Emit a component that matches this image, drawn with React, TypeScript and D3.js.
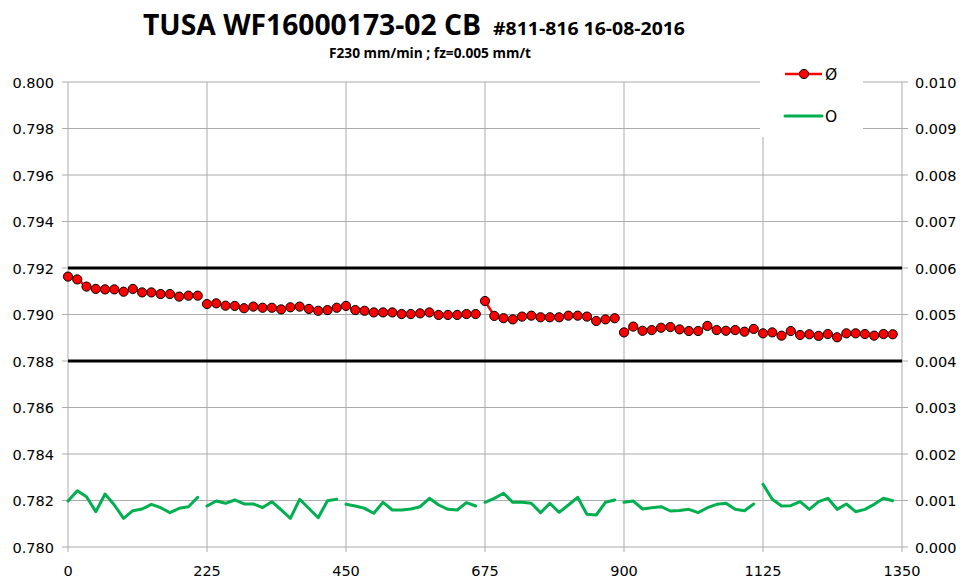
import React from "react";
import * as d3 from "d3";

const groupStarts = [0, 225, 450, 675, 900, 1125];
const stepX = 15;

const diameterRuns = [
  [0.79163, 0.79151, 0.7912, 0.7911, 0.79108, 0.79108, 0.79098, 0.7911, 0.79095, 0.79095, 0.79088, 0.79088, 0.79077, 0.79081, 0.79081],
  [0.79045, 0.79048, 0.79038, 0.79037, 0.79027, 0.79034, 0.79029, 0.79029, 0.79022, 0.79031, 0.79034, 0.79024, 0.79016, 0.79019, 0.79029],
  [0.79037, 0.79019, 0.79016, 0.79009, 0.79009, 0.79009, 0.79002, 0.79002, 0.79005, 0.79009, 0.78998, 0.78998, 0.78998, 0.79002, 0.79002],
  [0.79058, 0.78994, 0.78984, 0.78979, 0.78991, 0.78995, 0.78988, 0.78988, 0.78988, 0.78995, 0.78995, 0.78991, 0.78972, 0.78979, 0.78984],
  [0.78923, 0.78948, 0.7893, 0.78933, 0.78943, 0.78946, 0.78936, 0.78929, 0.78929, 0.78951, 0.78933, 0.7893, 0.78933, 0.78926, 0.78938],
  [0.78919, 0.78923, 0.78909, 0.78929, 0.78912, 0.78915, 0.78908, 0.78916, 0.78902, 0.78919, 0.78919, 0.78916, 0.78909, 0.78916, 0.78915],
];

const roundnessRuns = [
  [0.000989, 0.001211, 0.001082, 0.000759, 0.00114, 0.000903, 0.000617, 0.000781, 0.000817, 0.000918, 0.000845, 0.000738, 0.000832, 0.000867, 0.001069],
  [0.000882, 0.000989, 0.00094, 0.001011, 0.000925, 0.000925, 0.000849, 0.000974, 0.000796, 0.000617, 0.001026, 0.000828, 0.00063, 0.000996, 0.001026],
  [0.000918, 0.000882, 0.000832, 0.000725, 0.000961, 0.000796, 0.000796, 0.000817, 0.000867, 0.001047, 0.000903, 0.000811, 0.000796, 0.000953, 0.000882],
  [0.000961, 0.001047, 0.001155, 0.000961, 0.000961, 0.00094, 0.000738, 0.00094, 0.000746, 0.000903, 0.001069, 0.000703, 0.000688, 0.000961, 0.001011],
  [0.000961, 0.000989, 0.000817, 0.000845, 0.000867, 0.000774, 0.000785, 0.00081, 0.000738, 0.000845, 0.000918, 0.00094, 0.00081, 0.000781, 0.000925],
  [0.001348, 0.001026, 0.000882, 0.000888, 0.000974, 0.00081, 0.000974, 0.001047, 0.00081, 0.000925, 0.000759, 0.00081, 0.000918, 0.001047, 0.000996],
];

const xTicks = [0, 225, 450, 675, 900, 1125, 1350];
const leftTicks = [0.78, 0.782, 0.784, 0.786, 0.788, 0.79, 0.792, 0.794, 0.796, 0.798, 0.8];
const rightTicks = [0, 0.001, 0.002, 0.003, 0.004, 0.005, 0.006, 0.007, 0.008, 0.009, 0.01];
const limitLines = [0.792, 0.788];

const titleMain = "TUSA WF16000173-02 CB";
const titleTag = "#811-816 16-08-2016";
const subtitle = "F230 mm/min ; fz=0.005 mm/t";
const legendLabels = ["Ø", "O"];

const W = 968;
const H = 579;
const L = 68;
const R = 902;
const T = 82;
const B = 547;

export default function App() {
  const x = d3.scaleLinear().domain([0, 1350]).range([L, R]);
  const yL = d3.scaleLinear().domain([0.78, 0.8]).range([B, T]);
  const yR = d3.scaleLinear().domain([0, 0.01]).range([B, T]);

  const makeRun = (vals: number[], g: number, ys: d3.ScaleLinear<number, number>) =>
    d3
      .line<number>()
      .x((_, i) => x(groupStarts[g] + i * stepX))
      .y((d) => ys(d))(vals) || "";

  const axisFont = "'DejaVu Sans', sans-serif";
  const titleFont = "'Open Sans', 'Liberation Sans', Arial, sans-serif";
  const grid = "#ababab";

  return (
    <svg
      width={W}
      height={H}
      style={{ position: "absolute", left: 0, top: 0, display: "block", background: "#fff" }}
    >
      <rect x={0} y={0} width={W} height={H} fill="#fff" />
      {/* titles */}
      <text
        x={143}
        y={35}
        fontFamily={titleFont}
        fontWeight="bold"
        fontSize={28}
        textLength={338}
        lengthAdjust="spacingAndGlyphs"
      >
        {titleMain}
      </text>
      <text
        x={493}
        y={35}
        fontFamily={titleFont}
        fontWeight="bold"
        fontSize={17.5}
        textLength={192}
        lengthAdjust="spacingAndGlyphs"
      >
        {titleTag}
      </text>
      <text
        x={329}
        y={58}
        fontFamily={titleFont}
        fontWeight="bold"
        fontSize={14.5}
        textLength={202}
        lengthAdjust="spacingAndGlyphs"
      >
        {subtitle}
      </text>

      {/* horizontal gridlines */}
      {leftTicks.map((t) => (
        <line key={"h" + t} x1={L - 6} x2={R + 6} y1={yL(t)} y2={yL(t)} stroke={grid} strokeWidth={1} />
      ))}
      {/* vertical gridlines */}
      {xTicks.map((t) => (
        <line key={"v" + t} x1={x(t)} x2={x(t)} y1={T} y2={B + 5} stroke={grid} strokeWidth={1} />
      ))}

      {/* left labels */}
      {leftTicks.map((t) => (
        <text
          key={"l" + t}
          x={54}
          y={yL(t) + 5.5}
          textAnchor="end"
          fontFamily={axisFont}
          fontSize={14.5}
          fill="#000"
        >
          {d3.format(".3f")(t)}
        </text>
      ))}
      {/* right labels */}
      {rightTicks.map((t) => (
        <text
          key={"r" + t}
          x={915}
          y={yR(t) + 5.5}
          textAnchor="start"
          fontFamily={axisFont}
          fontSize={14.5}
          fill="#000"
        >
          {d3.format(".3f")(t)}
        </text>
      ))}
      {/* bottom labels */}
      {xTicks.map((t) => (
        <text
          key={"b" + t}
          x={x(t)}
          y={576}
          textAnchor="middle"
          fontFamily={axisFont}
          fontSize={14.5}
          fill="#000"
        >
          {t}
        </text>
      ))}

      {/* limit lines */}
      {limitLines.map((v) => (
        <line key={"lim" + v} x1={L} x2={R} y1={yL(v)} y2={yL(v)} stroke="#000" strokeWidth={3} />
      ))}

      {/* roundness series */}
      {roundnessRuns.map((run, g) => (
        <path
          key={"g" + g}
          d={makeRun(run, g, yR)}
          fill="none"
          stroke="#00b050"
          strokeWidth={3}
          strokeLinejoin="round"
          strokeLinecap="round"
        />
      ))}

      {/* diameter series */}
      {diameterRuns.map((run, g) => (
        <path key={"d" + g} d={makeRun(run, g, yL)} fill="none" stroke="#ff0000" strokeWidth={2.5} strokeLinejoin="round" />
      ))}
      {diameterRuns.map((run, g) =>
        run.map((v, i) => (
          <circle
            key={"c" + g + "-" + i}
            cx={x(groupStarts[g] + i * stepX)}
            cy={yL(v)}
            r={4.6}
            fill="#ff0000"
            stroke="#000"
            strokeWidth={1}
          />
        ))
      )}

      {/* legend */}
      <rect x={760} y={58} width={103} height={79} fill="#fff" />
      <line x1={785} x2={822} y1={74} y2={74} stroke="#ff0000" strokeWidth={2.5} />
      <circle cx={804} cy={74} r={4.6} fill="#ff0000" stroke="#000" strokeWidth={1} />
      <text x={825} y={80} fontFamily={axisFont} fontSize={15.5} fill="#000">
        {legendLabels[0]}
      </text>
      <line x1={785} x2={822} y1={116} y2={116} stroke="#00b050" strokeWidth={3} strokeLinecap="round" />
      <text x={825} y={121.5} fontFamily={axisFont} fontSize={15.5} fill="#000">
        {legendLabels[1]}
      </text>
    </svg>
  );
}
